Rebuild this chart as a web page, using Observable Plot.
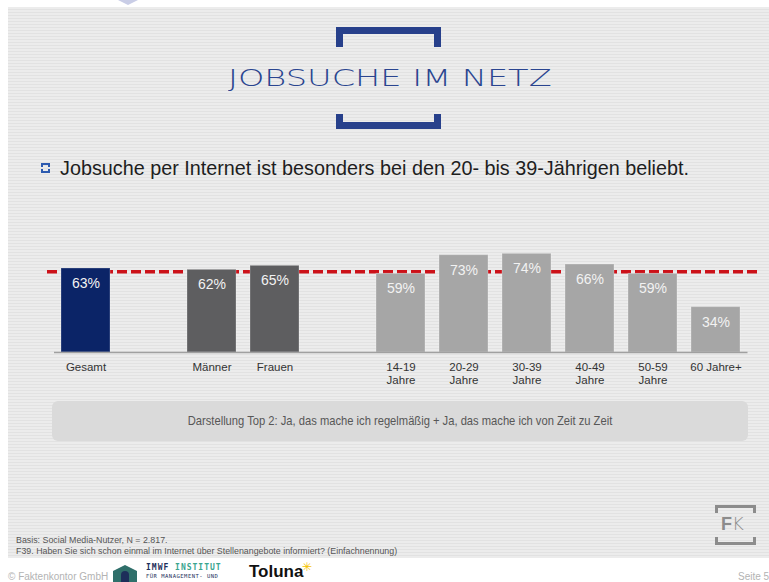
<!DOCTYPE html>
<html>
<head>
<meta charset="utf-8">
<script src="https://cdn.jsdelivr.net/npm/d3@7"></script>
<script src="https://cdn.jsdelivr.net/npm/@observablehq/plot@0.6"></script>
<style>
  html, body { margin: 0; padding: 0; background: #fff; }
  #slide { position: relative; width: 769px; height: 582px; overflow: hidden; background: #fff; font-family: "Liberation Sans", Arial, sans-serif; }
  #stripes { position: absolute; left: 8px; top: 7px; width: 761px; height: 551px;
    background: repeating-linear-gradient(to bottom, #ececec 0px, #ececec 2px, #e2e2e2 2px, #e2e2e2 3px); }
  .abs { position: absolute; }
  .navy { background: #27408b; }
  .fk { background: #8c8c8c; }
  #title { left: 0; width: 779.6px; top: 63px; text-align: center; line-height: 30px; }
  #title span { display: inline-block; transform: scaleX(1.46); font-family: "DejaVu Sans", sans-serif; font-weight: 200; font-size: 23px; color: #2a4590; }
  #subtitle { left: 60px; top: 157px; font-size: 19.8px; line-height: 22px; color: #1e1e1e; white-space: nowrap; }
  #note { left: 52px; top: 401px; width: 696px; height: 40px; border-radius: 6px; background: #dadada; }
  #note span { position: absolute; left: 0; width: 696px; top: 0; text-align: center; line-height: 40px;
    font-size: 13px; color: #575757; transform: scaleX(0.86); transform-origin: 348px 0; white-space: nowrap; }
  .foot { left: 16px; font-size: 9.5px; line-height: 11px; height: 11px; color: #555; white-space: nowrap; transform: scaleX(0.93); transform-origin: 0 0; }
  .bottom { font-size: 10px; line-height: 12px; color: #b3b3b3; white-space: nowrap; }
  #chart { left: 0; top: 236px; }
</style>
</head>
<body>
<div id="slide">
  <div id="stripes"></div>
  <!-- clipped artefact at top -->
  <div class="abs" style="left:118px;top:0;width:20px;height:5px;background:#c9cde6;clip-path:polygon(0 0,100% 0,50% 100%);"></div>

  <!-- title brackets -->
  <div class="abs navy" style="left:336px;top:27px;width:105px;height:7px;"></div>
  <div class="abs navy" style="left:336px;top:27px;width:7px;height:20px;"></div>
  <div class="abs navy" style="left:434px;top:27px;width:7px;height:20px;"></div>
  <div class="abs navy" style="left:336px;top:122px;width:105px;height:7px;"></div>
  <div class="abs navy" style="left:336px;top:114px;width:7px;height:15px;"></div>
  <div class="abs navy" style="left:434px;top:114px;width:7px;height:15px;"></div>
  <div id="title" class="abs"><span></span></div>

  <!-- subtitle icon -->
  <div class="abs" style="left:41px;top:163px;width:5px;height:2px;border:2px solid #2d5bb0;border-bottom:none;"></div>
  <div class="abs" style="left:41px;top:169px;width:5px;height:2px;border:2px solid #2d5bb0;border-top:none;"></div>
  <div id="subtitle" class="abs"></div>

  <div id="chart" class="abs"></div>

  <div id="note" class="abs"><span></span></div>

  <div id="foot1" class="abs foot" style="top:534px;"></div>
  <div id="foot2" class="abs foot" style="top:545px;"></div>

  <!-- FK logo -->
  <div class="abs fk" style="left:715px;top:505px;width:41px;height:3px;"></div>
  <div class="abs fk" style="left:715px;top:505px;width:3px;height:8px;"></div>
  <div class="abs fk" style="left:753px;top:505px;width:3px;height:8px;"></div>
  <div class="abs fk" style="left:715px;top:542px;width:41px;height:3px;"></div>
  <div class="abs fk" style="left:715px;top:537px;width:3px;height:8px;"></div>
  <div class="abs fk" style="left:753px;top:537px;width:3px;height:8px;"></div>
  <div class="abs" style="left:721px;top:514px;font-size:18px;line-height:20px;color:#8c8c8c;"><b>F</b><span style="font-family:'DejaVu Sans';font-weight:200;">K</span></div>

  <!-- bottom bar -->
  <div id="copy" class="abs bottom" style="left:8px;top:571px;"></div>
  <div class="abs" style="left:113px;top:565px;width:24px;height:17px;background:#2f6f6a;clip-path:polygon(0 35%,50% 0,100% 35%,100% 100%,0 100%);"></div>
  <div class="abs" style="left:121px;top:571px;width:8px;height:11px;background:#1d2f5a;border-radius:4px 4px 0 0;"></div>
  <div class="abs" style="left:146px;top:563px;font-family:'DejaVu Sans Mono',monospace;font-weight:bold;font-size:8px;line-height:9px;letter-spacing:1px;white-space:nowrap;"><span style="color:#1d2f5a">IMWF</span> <span style="color:#3aa58f">INSTITUT</span></div>
  <div class="abs" style="left:146px;top:573px;font-family:'DejaVu Sans Mono',monospace;font-size:5.5px;line-height:7px;letter-spacing:0.5px;color:#1d2f5a;white-space:nowrap;">FÜR MANAGEMENT- UND</div>
  <div class="abs" style="left:249px;top:563px;font-weight:bold;font-size:17px;line-height:18px;color:#111;">Toluna</div>
  <div class="abs" style="left:302px;top:561px;font-size:12px;line-height:12px;color:#f5c400;">✳</div>
  <div id="page" class="abs bottom" style="left:738px;top:571px;"></div>
</div>

<script>
// ---- data ----
const categories = ["Gesamt", "Männer", "Frauen", "14-19", "20-29", "30-39", "40-49", "50-59", "60+"];
const tickLabels = ["Gesamt", "Männer", "Frauen", "14-19\nJahre", "20-29\nJahre", "30-39\nJahre", "40-49\nJahre", "50-59\nJahre", "60 Jahre+"];
const values = [63, 62, 65, 59, 73, 74, 66, 59, 34];
const groups = ["Gesamt", "Geschlecht", "Geschlecht", "Alter", "Alter", "Alter", "Alter", "Alter", "Alter"];
const groupNames = ["Gesamt", "Geschlecht", "Alter"];
const groupColors = ["#0b2467", "#5e5e60", "#a6a6a6"];
const referenceLevel = 60.5;

const titleText = "JOBSUCHE IM NETZ";
const subtitleText = "Jobsuche per Internet ist besonders bei den 20- bis 39-Jährigen beliebt.";
const noteText = "Darstellung Top 2: Ja, das mache ich regelmäßig + Ja, das mache ich von Zeit zu Zeit";
const footnotes = ["Basis: Social Media-Nutzer, N = 2.817.", "F39. Haben Sie sich schon einmal im Internet über Stellenangebote informiert? (Einfachnennung)"];
const copyrightText = "© Faktenkontor GmbH";
const pageText = "Seite 54";

// ---- text ----
document.querySelector("#title span").textContent = titleText;
document.getElementById("subtitle").textContent = subtitleText;
document.querySelector("#note span").textContent = noteText;
document.getElementById("foot1").textContent = footnotes[0];
document.getElementById("foot2").textContent = footnotes[1];
document.getElementById("copy").textContent = copyrightText;
document.getElementById("page").textContent = pageText;

// ---- chart ----
const data = categories.map((c, i) => ({key: c, label: tickLabels[i], value: values[i], group: groups[i]}));
const labelOf = new Map(data.map(d => [d.key, d.label]));
// gaps between the three groups of bars
const slots = [categories[0], "·1", categories[1], categories[2], "·2", ...categories.slice(3)];

const chart = Plot.plot({
  width: 769,
  height: 160,
  marginTop: 0,
  marginBottom: 44,
  marginLeft: 54,
  marginRight: 21.5,
  style: {background: "transparent", fontFamily: "'Liberation Sans', Arial, sans-serif", overflow: "visible"},
  x: {domain: slots, paddingInner: 0.223, paddingOuter: 0.1115, axis: null, label: null},
  y: {domain: [0, 87], axis: null, label: null},
  color: {domain: groupNames, range: groupColors},
  marks: [
    Plot.ruleY([referenceLevel], {stroke: "#cc1119", strokeWidth: 3.5, strokeDasharray: "10,4", insetLeft: -7, insetRight: -10}),
    Plot.barY(data, {x: "key", y: "value", fill: "group", stroke: "#ffffff", strokeOpacity: 0.25, strokeWidth: 1}),
    Plot.ruleY([0], {stroke: "#a0a0a0", strokeWidth: 1.5}),
    Plot.text(data, {x: "key", y: "value", text: d => d.value + "%", dy: 15, fill: "#f2f2f2", fontSize: 14}),
    Plot.axisX(categories, {tickSize: 0, tickPadding: 10, tickFormat: d => labelOf.get(d), label: null, fontSize: 11.5, lineHeight: 1.1, fill: "#333"})
  ]
});
document.getElementById("chart").appendChild(chart);
</script>
</body>
</html>
